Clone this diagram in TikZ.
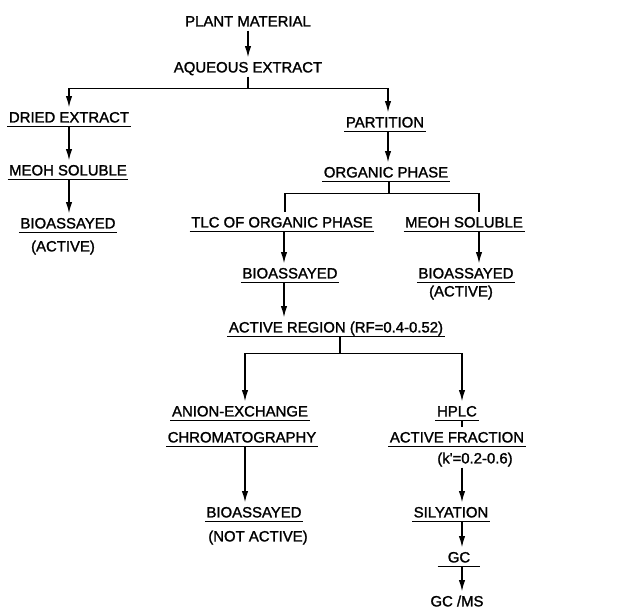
\documentclass[tikz,border=0pt]{standalone}
\usepackage{fontspec}
\newfontfamily\flowfont[FakeBold=1.5]{Liberation Sans}
\usetikzlibrary{arrows.meta, calc}

\tikzset{
    stage/.style={inner xsep=1pt, inner ysep=2.8pt, text height=7.7pt, text depth=0pt,
        font=\flowfont\fontsize{10.6}{12}\selectfont},
    arr/.style={line width=0.9pt, -{Latex[length=8pt,width=4.5pt]}},
    link/.style={line width=0.9pt}
}

\begin{document}
\begin{tikzpicture}[x=0.025cm, y=-0.025cm]
    \useasboundingbox (0,0) rectangle (634,610);

    \node[stage] (plant) at (248,21) {PLANT MATERIAL};
    \node[stage] (aqueous) at (248,67) {AQUEOUS EXTRACT};
    \node[stage] (dried) at (69,117) {DRIED EXTRACT};
    \node[stage] (partition) at (385,122) {PARTITION};
    \node[stage] (meoh1) at (68,170) {MEOH SOLUBLE};
    \node[stage] (orgphase) at (386,172) {ORGANIC PHASE};
    \node[stage] (bio1) at (68,223) {BIOASSAYED};
    \node[stage] (act1) at (63,246) {(ACTIVE)};
    \node[stage] (tlc) at (282,222) {TLC OF ORGANIC PHASE};
    \node[stage] (meoh2) at (464,222) {MEOH SOLUBLE};
    \node[stage] (bio2) at (290,273) {BIOASSAYED};
    \node[stage] (bio3) at (466,273) {BIOASSAYED};
    \node[stage] (act2) at (461,291) {(ACTIVE)};
    \node[stage] (region) at (336,327) {ACTIVE REGION (RF=0.4-0.52)};
    \node[stage] (anion) at (240,411) {ANION-EXCHANGE};
    \node[stage] (chrom) at (242,437) {CHROMATOGRAPHY};
    \node[stage] (hplc) at (457,411) {HPLC};
    \node[stage] (fraction) at (457,437) {ACTIVE FRACTION};
    \node[stage] (kval) at (475,458) {(k'=0.2-0.6)};
    \node[stage] (bio4) at (254,512) {BIOASSAYED};
    \node[stage] (notact) at (258,536) {(NOT ACTIVE)};
    \node[stage] (silyation) at (451,512) {SILYATION};
    \node[stage, inner xsep=7pt] (gc) at (459,557) {GC};
    \node[stage] (gcms) at (457,601) {GC /MS};

    \coordinate (lcol) at (245,0);
    \coordinate (rcol) at (462,0);

    \foreach \n in {dried,partition,meoh1,orgphase,bio1,tlc,meoh2,bio2,bio3,region,anion,chrom,hplc,fraction,bio4,silyation,gc,gcms}
        \draw[link] (\n.south west) -- (\n.south east);

    \draw[arr] (plant.south) -- (aqueous.north);
    \draw[link] (aqueous.south) -- ++(0,12) coordinate (j1);
    \draw[arr] (j1) -| (dried.north);
    \draw[arr] (j1) -| ($(partition.north)+(3,0)$);
    \draw[arr] (dried.south) -- (dried.south |- meoh1.north);
    \draw[arr] (dried.south |- meoh1.south) -- (dried.south |- bio1.north);
    \draw[arr] ($(partition.south)+(3,0)$) -- ($(partition.south |- orgphase.north)+(3,0)$);

    \draw[link] ($(orgphase.south)+(3,0)$) -- ++(0,12) coordinate (j2);
    \draw[link] (j2) -| ($(tlc.north)+(3,0)$);
    \draw[link] (j2) -| ($(meoh2.north)+(15,0)$);
    \draw[arr] ($(tlc.south)+(2,0)$) -- ($(tlc.south |- bio2.north)+(2,0)$);
    \draw[arr] ($(tlc.south |- bio2.south)+(2,0)$) -- ($(tlc.south |- region.north)+(2,0)$);
    \draw[arr] ($(meoh2.south)+(15,0)$) -- ($(meoh2.south |- bio3.north)+(15,0)$);

    \draw[link] ($(region.south)+(4,0)$) -- ++(0,17) coordinate (j3);
    \draw[arr] (j3) -| (anion.north -| lcol);
    \draw[arr] (j3) -| (hplc.north -| rcol);
    \draw[arr] (chrom.south -| lcol) -- (bio4.north -| lcol);
    \draw[link] (hplc.south -| rcol) -- (fraction.north -| rcol);
    \draw[arr] (kval.south -| rcol) -- (silyation.north -| rcol);
    \draw[arr] (silyation.south -| rcol) -- (gc.north -| rcol);
    \draw[arr] (gc.south -| rcol) -- (gcms.north -| rcol);
\end{tikzpicture}
\end{document}
